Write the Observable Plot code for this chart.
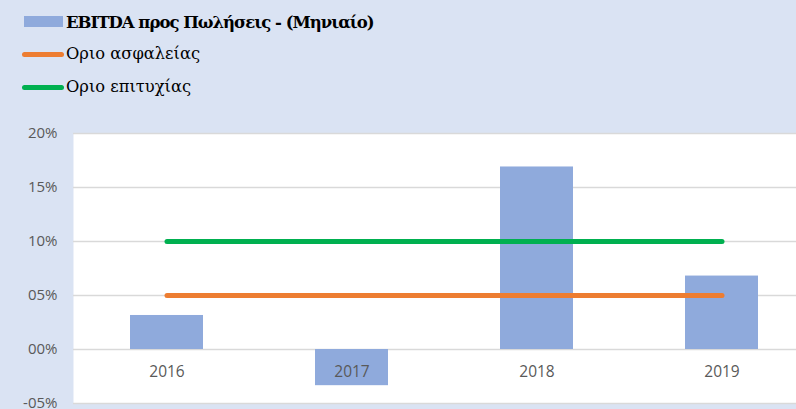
<!DOCTYPE html>
<html>
<head>
<meta charset="utf-8">
<script src="https://cdn.jsdelivr.net/npm/d3@7"></script>
<script src="https://cdn.jsdelivr.net/npm/@observablehq/plot@0.6"></script>
<style>
  html, body { margin: 0; padding: 0; }
  body { width: 796px; height: 409px; overflow: hidden; background: #DAE3F3; position: relative; }
  #legend { position: relative; height: 110px; font-family: "DejaVu Serif", serif; color: #000; }
  .item { position: absolute; left: 0; height: 24px; white-space: nowrap; }
  .sw { position: absolute; }
  .lbl { position: absolute; left: 66px; font-size: 16.3px; line-height: 24px; top: 0; }
  #chart svg { display: block; overflow: visible; background: transparent; }
</style>
</head>
<body>
<div id="legend"></div>
<div id="chart"></div>
<script>
const years = ["2016", "2017", "2018", "2019"];
const ebitdaRatio = [3.15, -3.35, 16.9, 6.8];
const safetyLimit = [5, 5, 5, 5];
const successLimit = [10, 10, 10, 10];
const yTicks = [-5, 0, 5, 10, 15, 20];
const seriesNames = ["EBITDA προς Πωλήσεις - (Μηνιαίο)", "Οριο ασφαλείας", "Οριο επιτυχίας"];
const colors = ["#8FAADC", "#ED7D31", "#00B050"];

// Legend
const legend = document.getElementById("legend");
const rows = [
  {name: seriesNames[0], color: colors[0], type: "bar", cy: 22, bold: true},
  {name: seriesNames[1], color: colors[1], type: "line", cy: 54, bold: false},
  {name: seriesNames[2], color: colors[2], type: "line", cy: 87, bold: false}
];
for (const r of rows) {
  const it = document.createElement("div");
  it.className = "item";
  it.style.top = (r.cy - 12) + "px";
  it.style.width = "796px";
  const sw = document.createElement("div");
  sw.className = "sw";
  sw.style.background = r.color;
  if (r.type === "bar") {
    sw.style.left = "24px"; sw.style.width = "39px"; sw.style.height = "11px"; sw.style.top = "6px";
  } else {
    sw.style.left = "22px"; sw.style.width = "42px"; sw.style.height = "5px"; sw.style.top = "9.5px";
    sw.style.borderRadius = "3px";
  }
  const lb = document.createElement("div");
  lb.className = "lbl";
  lb.textContent = r.name;
  if (r.bold) { lb.style.fontWeight = "bold"; lb.style.letterSpacing = "-1px"; lb.style.fontSize = "16.5px"; lb.style.top = "1px"; }
  it.appendChild(sw);
  it.appendChild(lb);
  legend.appendChild(it);
}

const bars = years.map((y, i) => ({year: y, value: ebitdaRatio[i]}));
const safety = years.map((y, i) => ({year: y, value: safetyLimit[i]}));
const success = years.map((y, i) => ({year: y, value: successLimit[i]}));

const fmt = d => (d < 0 ? "-" : "") + String(Math.abs(d)).padStart(2, "0") + "%";

const chart = Plot.plot({
  width: 796,
  height: 299,
  marginTop: 23,
  marginBottom: 6,
  marginLeft: 73,
  marginRight: 0,
  style: {fontFamily: "'Open Sans', sans-serif", background: "transparent", overflow: "visible"},
  x: {type: "band", domain: years, range: [73.25, 815], paddingInner: 0.606, paddingOuter: 0.303, axis: null},
  y: {domain: [-5, 20], axis: null},
  marks: [
    Plot.frame({fill: "white", stroke: null}),
    Plot.ruleY(yTicks, {stroke: "#D9D9D9", strokeWidth: 1.3}),
    Plot.barY(bars, {x: "year", y: "value", fill: colors[0]}),
    Plot.line(safety, {x: "year", y: "value", stroke: colors[1], strokeWidth: 5, strokeLinecap: "round"}),
    Plot.line(success, {x: "year", y: "value", stroke: colors[2], strokeWidth: 5, strokeLinecap: "round"}),
    Plot.axisY({ticks: yTicks, tickFormat: fmt, tickSize: 0, tickPadding: 16, fontSize: 15, fill: "#595959", label: null}),
    Plot.text(years, {x: d => d, y: 0, dy: 23, text: d => d, fontSize: 15.5, fill: "#595959"})
  ]
});
document.getElementById("chart").appendChild(chart);
</script>
</body>
</html>
